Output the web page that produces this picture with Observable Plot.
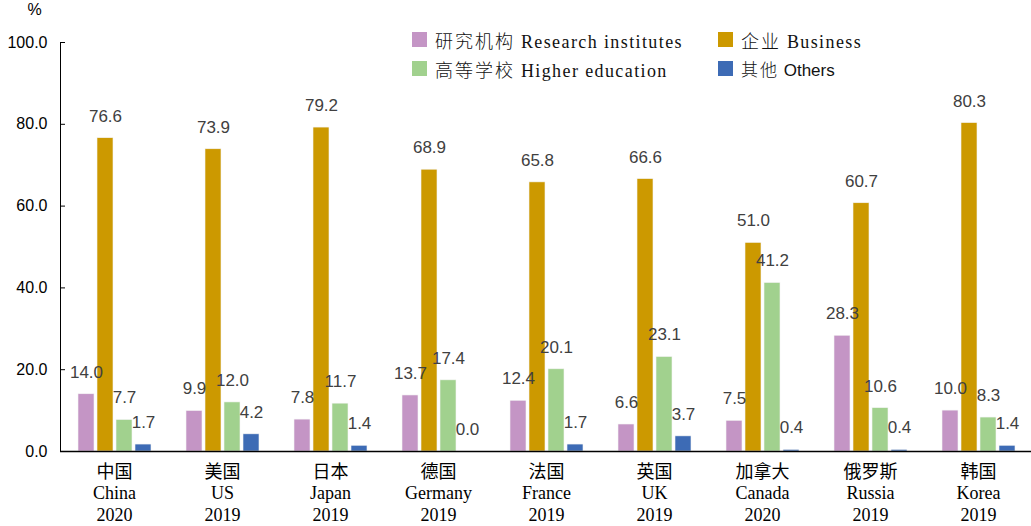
<!DOCTYPE html>
<html>
<head>
<meta charset="utf-8">
<script src="https://cdn.jsdelivr.net/npm/d3@7"></script>
<script src="https://cdn.jsdelivr.net/npm/@observablehq/plot@0.6"></script>
<style>
  html, body { margin: 0; padding: 0; background: #fff; }
  #wrap { position: relative; width: 1031px; height: 526px; overflow: hidden; }
  #legend { position: absolute; left: 412px; top: 32px; display: grid;
            grid-template-columns: 306px auto; grid-auto-rows: 29px; }
  .item { display: flex; align-items: center; height: 15px; }
  .sw { width: 15px; height: 15px; margin-right: 8px; flex: none; }
  .lab { font-family: "Liberation Serif", "Noto Sans CJK SC", serif; font-size: 18px;
         letter-spacing: 1.4px; color: #111; white-space: nowrap; }
  .lab.sans { font-family: "Liberation Sans", "Noto Sans CJK SC", sans-serif; font-size: 17px; letter-spacing: 0; }
  .lab .zh { font-family: "Noto Sans CJK SC", serif; letter-spacing: 2px; font-weight: 300; }
</style>
</head>
<body>
<div id="wrap"><div id="chart"></div><div id="legend"></div></div>
<script>
const countriesZh = ["中国","美国","日本","德国","法国","英国","加拿大","俄罗斯","韩国"];
const countriesEn = ["China","US","Japan","Germany","France","UK","Canada","Russia","Korea"];
const years = ["2020","2019","2019","2019","2019","2019","2020","2019","2019"];
const seriesKeys = ["research","business","higher","others"];
const seriesZh = ["研究机构","企业","高等学校","其他"];
const seriesEn = ["Research institutes","Business","Higher education","Others"];
const seriesColors = ["#C495C5","#CC9900","#A1D18E","#3D6BB5"];
const research = [14.0, 9.9, 7.8, 13.7, 12.4, 6.6, 7.5, 28.3, 10.0];
const business = [76.6, 73.9, 79.2, 68.9, 65.8, 66.6, 51.0, 60.7, 80.3];
const higher   = [7.7, 12.0, 11.7, 17.4, 20.1, 23.1, 41.2, 10.6, 8.3];
const others   = [1.7, 4.2, 1.4, 0.0, 1.7, 3.7, 0.4, 0.4, 1.4];
const yTicks = [0, 20, 40, 60, 80, 100];

const valuesBySeries = {research, business, higher, others};
const data = [];
countriesEn.forEach((c, i) => {
  seriesKeys.forEach(s => data.push({country: c, series: s, value: valuesBySeries[s][i]}));
});

const chart = Plot.plot({
  width: 1031,
  height: 526,
  marginTop: 42,
  marginBottom: 75,
  marginLeft: 58,
  marginRight: -3,
  fx: {domain: countriesEn, padding: 0, axis: null},
  x: {domain: seriesKeys, paddingInner: 0.18, paddingOuter: 0.87, axis: null},
  y: {domain: [0, 100], axis: null},
  color: {domain: seriesKeys, range: seriesColors},
  marks: [
    Plot.barY(data, {fx: "country", x: "series", y: "value", fill: "series", stroke: "#f4f4f4", strokeWidth: 0.6}),
    Plot.text(data, {fx: "country", x: "series", y: "value", text: d => d.value.toFixed(1),
      dy: -22, lineAnchor: "middle", fontSize: 17, fill: "#404040",
      fontFamily: "Liberation Sans, Arial, sans-serif"}),
    Plot.ruleY([0], {stroke: "#000", strokeWidth: 1.5}),
    Plot.frame({anchor: "left", facetAnchor: "left", stroke: "#000", strokeWidth: 1}),
    Plot.axisY({ticks: yTicks, tickSize: -5, tickPadding: 18, tickFormat: d3.format(".1f"),
      fontSize: 16, fontFamily: "Liberation Sans, Arial, sans-serif", color: "#000", label: null}),
    Plot.axisY({ticks: [], tickSize: 0, label: "%", labelAnchor: "top", labelArrow: false,
      labelOffset: 33, fontSize: 16, fontFamily: "Liberation Sans, Arial, sans-serif", color: "#000"}),
    Plot.axisFx({anchor: "bottom", tickSize: 0, tickPadding: 11, lineHeight: 1.2,
      tickFormat: c => { const i = countriesEn.indexOf(c); return `${countriesZh[i]}\n${c}\n${years[i]}`; },
      fontSize: 18, fontFamily: "Liberation Serif, Noto Sans CJK SC, serif", color: "#000", label: null})
  ],
  style: {background: "#fff", overflow: "hidden"}
});
document.getElementById("chart").appendChild(chart);

const legend = document.getElementById("legend");
[0, 1, 2, 3].forEach(i => {
  const it = document.createElement("div");
  it.className = "item";
  const sw = document.createElement("div");
  sw.className = "sw";
  sw.style.background = seriesColors[i];
  const lab = document.createElement("span");
  lab.className = "lab" + (i === 3 ? " sans" : "");
  lab.innerHTML = `<span class="zh">${seriesZh[i]}</span> ${seriesEn[i]}`;
  it.appendChild(sw); it.appendChild(lab);
  legend.appendChild(it);
});
</script>
</body>
</html>
